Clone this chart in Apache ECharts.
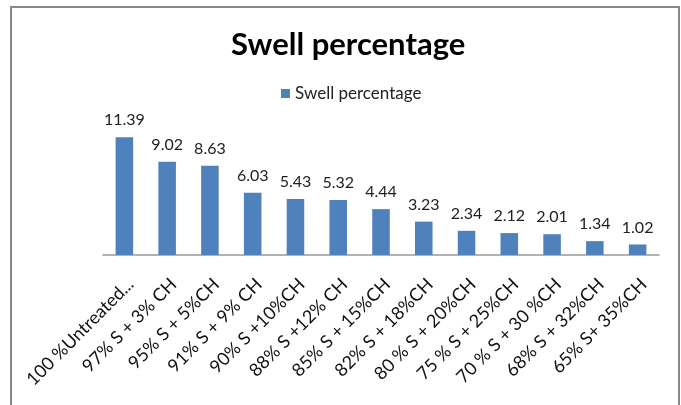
<!DOCTYPE html>
<html>
<head>
<meta charset="utf-8">
<script src="https://cdn.jsdelivr.net/npm/echarts@6/dist/echarts.min.js"></script>
<style>html,body{margin:0;padding:0;background:#fff}#c{width:681px;height:405px}</style>
</head>
<body>
<div id="c"></div>
<script>
const categories = ["100 %Untreated...", "97% S + 3% CH", "95% S + 5%CH", "91% S + 9% CH", "90% S +10%CH", "88% S +12% CH", "85% S + 15%CH", "82% S + 18%CH", "80 % S + 20%CH", "75 % S + 25%CH", "70 % S + 30 %CH", "68% S + 32%CH", "65% S+ 35%CH"];
const swell = [11.39, 9.02, 8.63, 6.03, 5.43, 5.32, 4.44, 3.23, 2.34, 2.12, 2.01, 1.34, 1.02];
const seriesName = "Swell percentage";
const titleText = "Swell percentage";

const chart = echarts.init(document.getElementById('c'));
chart.setOption({
  animation: false,
  textStyle: {fontFamily: 'Lato'},
  title: {text: titleText, left: 226, top: 24, textStyle: {fontFamily: 'Lato', fontWeight: 'bold', fontSize: 31, color: '#000'}},
  legend: {top: 80, left: 276, itemWidth: 9, itemHeight: 9, icon: 'rect', itemGap: 6,
    textStyle: {fontFamily: 'Lato', fontSize: 17, color: '#222'}},
  graphic: [{type: 'rect', shape: {x: 11, y: 7, width: 668, height: 420}, style: {fill: 'none', stroke: '#888', lineWidth: 2}, silent: true}],
  grid: {left: 103, right: 22, top: 131, bottom: 150},
  xAxis: {type: 'category', data: categories,
    axisLine: {lineStyle: {color: '#999', width: 1.5}}, axisTick: {show: false},
    axisLabel: {rotate: 45, interval: 0, margin: 20, verticalAlign: 'top', fontFamily: 'Lato', fontSize: 18, color: '#111'}},
  yAxis: {type: 'value', min: 0, max: 12, show: false, splitLine: {show: false}},
  series: [{name: seriesName, type: 'bar', data: swell, barWidth: '41%',
    itemStyle: {color: '#4F81BD'},
    label: {show: true, position: 'top', distance: 9, fontFamily: 'Lato', fontSize: 16, color: '#222'}}]
});
</script>
</body>
</html>
